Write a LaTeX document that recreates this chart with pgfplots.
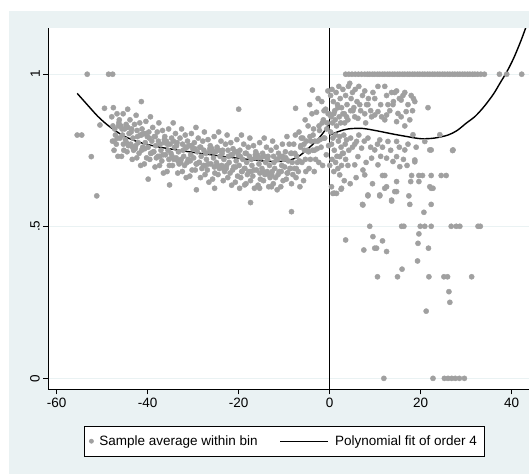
\documentclass[border=0pt]{standalone}
\usepackage{fontspec}
\setmainfont{Liberation Sans}
\usepackage{pgfplots}
\pgfplotsset{compat=1.18}
\usepackage{pgfplotstable}
\definecolor{bgc}{RGB}{234,242,243}
\definecolor{mgray}{RGB}{160,160,160}
\pgfplotsset{fitlegend/.style={legend image code/.code={\draw[##1] (0pt,0pt) -- (48pt,0pt);}},
  scatlegend/.style={legend image code/.code={\draw[##1, mark size=2pt] plot coordinates {(0pt,0pt)};}}}

\pgfplotstableread{
x y
-47.9 .86
-47.75 .78
-47.55 .89
-47.4 .75
-47.25 .82
-47.1 .80
-46.9 .77
-46.75 .87
-46.55 .73
-46.4 .83
-46.25 .85
-46.1 .79
-45.9 .83
-45.75 .73
-45.55 .80
-45.4 .87
-45.25 .75
-45.1 .82
-44.9 .785
-44.75 .835
-44.55 .745
-44.4 .885
-44.25 .765
-44.1 .805
-43.9 .85
-43.75 .77
-43.55 .82
-43.4 .72
-43.25 .79
-43.1 .75
-42.9 .835
-42.75 .755
-42.55 .865
-42.4 .725
-42.25 .795
-42.1 .775
-41.9 .74
-41.75 .84
-41.55 .70
-41.4 .80
-41.25 .82
-41.1 .76
-40.9 .805
-40.75 .705
-40.55 .775
-40.4 .845
-40.25 .725
-40.1 .795
-39.9 .76
-39.75 .81
-39.55 .72
-39.4 .86
-39.25 .74
-39.1 .78
-38.9 .825
-38.75 .745
-38.55 .795
-38.4 .695
-38.25 .765
-38.1 .725
-37.9 .81
-37.75 .73
-37.55 .84
-37.4 .70
-37.25 .77
-37.1 .75
-36.9 .715
-36.75 .815
-36.55 .675
-36.4 .775
-36.25 .795
-36.1 .735
-35.9 .78
-35.75 .68
-35.55 .75
-35.4 .82
-35.25 .70
-35.1 .77
-34.9 .74
-34.75 .79
-34.55 .70
-34.4 .84
-34.25 .72
-34.1 .76
-33.9 .805
-33.75 .725
-33.55 .775
-33.4 .675
-33.25 .745
-33.1 .705
-32.9 .79
-32.75 .71
-32.55 .82
-32.4 .68
-32.25 .75
-32.1 .73
-31.9 .70
-31.75 .80
-31.55 .66
-31.4 .76
-31.25 .78
-31.1 .72
-30.9 .765
-30.75 .665
-30.55 .735
-30.4 .805
-30.25 .685
-30.1 .755
-29.9 .725
-29.75 .775
-29.55 .685
-29.4 .825
-29.25 .705
-29.1 .745
-28.9 .79
-28.75 .71
-28.55 .76
-28.4 .66
-28.25 .73
-28.1 .69
-27.9 .78
-27.75 .70
-27.55 .81
-27.4 .67
-27.25 .74
-27.1 .72
-26.9 .685
-26.75 .785
-26.55 .645
-26.4 .745
-26.25 .765
-26.1 .705
-25.9 .755
-25.75 .655
-25.55 .725
-25.4 .795
-25.25 .675
-25.1 .745
-24.9 .71
-24.75 .76
-24.55 .67
-24.4 .81
-24.25 .69
-24.1 .73
-23.9 .78
-23.75 .70
-23.55 .75
-23.4 .65
-23.25 .72
-23.1 .68
-22.9 .77
-22.75 .69
-22.55 .80
-22.4 .66
-22.25 .73
-22.1 .71
-21.9 .675
-21.75 .775
-21.55 .635
-21.4 .735
-21.25 .755
-21.1 .695
-20.9 .745
-20.75 .645
-20.55 .715
-20.4 .785
-20.25 .665
-20.1 .735
-19.9 .70
-19.75 .75
-19.55 .66
-19.4 .80
-19.25 .68
-19.1 .72
-18.9 .77
-18.75 .69
-18.55 .74
-18.4 .64
-18.25 .71
-18.1 .67
-17.9 .76
-17.75 .68
-17.55 .79
-17.4 .65
-17.25 .72
-17.1 .70
-16.9 .665
-16.75 .765
-16.55 .625
-16.4 .725
-16.25 .745
-16.1 .685
-15.9 .735
-15.75 .635
-15.55 .705
-15.4 .775
-15.25 .655
-15.1 .725
-14.9 .69
-14.75 .74
-14.55 .65
-14.4 .79
-14.25 .67
-14.1 .71
-13.9 .76
-13.75 .68
-13.55 .73
-13.4 .63
-13.25 .70
-13.1 .66
-12.9 .75
-12.75 .67
-12.55 .78
-12.4 .64
-12.25 .71
-12.1 .69
-11.9 .66
-11.75 .76
-11.55 .62
-11.4 .72
-11.25 .74
-11.1 .68
-10.9 .73
-10.75 .63
-10.55 .70
-10.4 .77
-10.25 .65
-10.1 .72
-9.9 .695
-9.75 .745
-9.55 .655
-9.4 .795
-9.25 .675
-9.1 .715
-8.9 .77
-8.75 .69
-8.55 .74
-8.4 .64
-8.25 .71
-8.1 .67
-7.9 .77
-7.75 .69
-7.55 .80
-7.4 .66
-7.25 .73
-7.1 .71
-6.9 .68
-6.75 .81
-6.55 .63
-6.4 .76
-6.25 .79
-6.1 .71
-5.9 .79
-5.75 .65
-5.55 .75
-5.4 .85
-5.25 .68
-5.1 .78
-4.9 .75
-4.75 .83
-4.55 .69
-4.4 .90
-4.25 .72
-4.1 .78
-3.9 .87
-3.75 .75
-3.55 .82
-3.4 .68
-3.25 .78
-3.1 .72
-2.9 .875
-2.75 .755
-2.55 .92
-2.4 .71
-2.25 .815
-2.1 .785
-1.9 .76
-1.75 .91
-1.55 .70
-1.4 .85
-1.25 .88
-1.1 .79
-0.9 .885
-0.75 .735
-0.55 .84
-0.4 .945
-0.25 .765
-0.1 .87
-47.65 .83
-47.35 .78
-46.65 .79
-46.35 .84
-45.65 .82
-45.35 .77
-44.65 .775
-44.35 .825
-43.65 .81
-43.35 .76
-42.65 .765
-42.35 .815
-41.65 .80
-41.35 .75
-40.65 .755
-40.35 .805
-39.65 .79
-39.35 .74
-38.65 .745
-38.35 .795
-37.65 .78
-37.35 .73
-36.65 .735
-36.35 .785
-35.65 .77
-35.35 .72
-34.65 .73
-34.35 .78
-33.65 .765
-33.35 .715
-32.65 .72
-32.35 .77
-31.65 .76
-31.35 .71
-30.65 .715
-30.35 .765
-29.65 .755
-29.35 .705
-28.65 .71
-28.35 .76
-27.65 .75
-27.35 .70
-26.65 .705
-26.35 .755
-25.65 .745
-25.35 .695
-24.65 .70
-24.35 .75
-23.65 .74
-23.35 .69
-22.65 .70
-22.35 .75
-21.65 .735
-21.35 .685
-20.65 .695
-20.35 .745
-19.65 .73
-19.35 .68
-18.65 .69
-18.35 .74
-17.65 .73
-17.35 .68
-16.65 .685
-16.35 .735
-15.65 .725
-15.35 .675
-14.65 .68
-14.35 .73
-13.65 .72
-13.35 .67
-12.65 .68
-12.35 .73
-11.65 .72
-11.35 .67
-10.65 .68
-10.35 .73
-9.65 .725
-9.35 .675
-8.65 .69
-8.35 .74
-7.65 .74
-7.35 .69
-6.65 .715
-6.35 .765
-5.65 .77
-5.35 .72
-4.65 .745
-4.35 .795
-3.65 .80
-3.35 .75
-2.65 .78
-2.35 .83
-1.65 .84
-1.35 .79
-0.65 .82
-0.35 .87
-55.5 .80
-54.5 .80
-53.3 1
-52.4 .729
-51.2 .60
-50.5 .833
-49.5 .888
-48.6 1
-47.7 1
-41.4 .91
-39.9 .655
-35.2 .636
-29.3 .62
-25.3 .625
-20.0 .885
-19.8 .625
-18.7 .636
-17.4 .578
-15.4 .625
-12.8 .63
-8.4 .548
-7.5 .888
-3.8 .948
0.2 .93
0.5 .95
0.8 .91
1.1 .88
1.4 .94
1.7 .90
2.0 .96
2.3 .92
2.6 .89
2.9 .95
3.2 .87
3.5 .93
3.8 .90
4.1 .96
4.4 .97
4.7 .92
5.0 .94
5.3 .89
5.6 .95
6.0 .91
6.4 .96
6.8 .88
7.2 .93
7.7 .945
8.1 .90
8.5 .92
9.0 .88
9.5 .94
9.9 .92
10.6 .96
11.2 .90
12.1 .96
12.5 .93
12.8 .90
13.6 .94
14.0 .91
14.3 .94
14.7 .945
15.3 .92
15.7 .915
16.1 .93
16.5 .94
17.2 .90
17.9 .93
18.4 .92
18.7 .91
21.6 .89
0.3 .86
0.6 .84
0.9 .87
1.2 .85
1.5 .83
1.8 .89
2.1 .86
2.4 .84
2.9 .87
3.3 .84
3.7 .86
4.0 .85
4.6 .88
5.1 .88
5.5 .86
6.2 .855
6.6 .90
7.7 .87
7.9 .84
8.4 .90
9.2 .86
9.9 .866
10.6 .877
11.4 .86
12.1 .85
12.5 .866
13.2 .88
13.9 .90
14.7 .844
15.0 .871
15.7 .86
16.5 .83
16.8 .877
17.6 .85
18.2 .88
0.2 .81
0.4 .77
0.7 .79
1.0 .75
1.3 .80
1.6 .73
1.9 .78
2.2 .795
2.5 .76
2.8 .74
3.1 .80
3.4 .77
3.7 .784
4.2 .75
4.6 .79
5.0 .76
5.5 .77
5.9 .779
6.4 .80
7.0 .757
7.6 .78
8.4 .79
9.0 .76
9.9 .751
10.5 .77
11.0 .784
11.6 .76
12.8 .779
13.4 .75
14.7 .779
15.3 .76
16.5 .751
17.2 .77
18.3 .801
19.0 .76
20.9 .779
22.3 .751
24.2 .801
27.1 .751
0.0 .70
0.5 .72
0.9 .68
1.3 .71
1.8 .69
2.2 .729
2.6 .70
3.0 .74
3.5 .72
4.0 .70
5.5 .702
6.2 .729
7.3 .685
8.0 .71
9.2 .724
10.6 .702
11.2 .73
12.5 .724
13.9 .713
14.7 .729
15.4 .696
16.2 .72
17.0 .70
18.7 .718
0.4 .63
0.7 .608
1.5 .608
2.2 .669
2.6 .625
3.2 .65
4.5 .64
5.8 .66
7.7 .669
8.4 .603
9.4 .64
11.0 .603
12.5 .63
13.6 .586
14.3 .614
14.7 .647
7.3 .57
1.0 .609
2.5 .622
7.2 .572
8.4 .60
11.0 .60
13.6 .583
12.1 .625
14.7 .614
17.4 .60
17.6 .572
20.7 .546
22.3 .572
22.3 .625
22.0 .630
22.7 .625
19.6 .647
17.8 .647
18.7 .712
22.0 .751
27.0 .749
11.6 .667
12.1 .667
18.0 .667
19.6 .667
20.4 .667
22.3 .667
24.5 .667
25.6 .667
8.8 .5
15.8 .5
16.3 .5
19.9 .5
20.9 .5
22.3 .5
26.7 .5
27.8 .5
28.6 .5
32.6 .5
33.1 .5
3.5 .455
7.5 .422
9.5 .466
9.9 .428
10.3 .428
11.6 .452
12.5 .417
15.9 .359
19.3 .386
19.4 .444
19.6 .475
21.7 .428
10.5 .334
14.9 .334
21.8 .334
25.1 .334
25.9 .334
31.2 .334
26.2 .285
26.4 .25
21.2 .221
11.9 0
22.7 0
25.2 0
26.0 0
26.8 0
27.6 0
28.5 0
29.6 0
3.5 1
4.2 1
4.9 1
5.6 1
6.3 1
7.0 1
7.7 1
8.3 1
8.8 1
9.4 1
9.9 1
10.5 1
11.0 1
11.6 1
12.1 1
12.7 1
13.2 1
13.8 1
14.3 1
14.9 1
15.4 1
16.0 1
16.5 1
17.1 1
17.6 1
18.2 1
18.7 1
19.3 1
19.8 1
20.4 1
20.9 1
21.5 1
22.0 1
22.6 1
23.1 1
23.7 1
24.2 1
24.8 1
25.3 1
25.9 1
26.4 1
27.0 1
27.5 1
28.1 1
28.6 1
29.2 1
29.7 1
30.3 1
30.8 1
31.4 1
31.9 1
32.5 1
33.2 1
34.0 1
37.3 1
38.9 1
42.2 1
}\bins

\begin{document}
\begin{tikzpicture}[x=1pt,y=1pt,font=\fontsize{13.5}{16}\selectfont]
\useasboundingbox (0,0) rectangle (529,474);
\fill[white] (0,0) rectangle (529,474);
\fill[bgc] (9,0) rectangle (529,463);
\begin{axis}[
  at={(48.3pt,84.7pt)}, anchor=south west,
  scale only axis, width=480.7pt, height=361pt,
  xmin=-61.85, xmax=43.8, ymin=-0.036, ymax=1.151,
  axis background/.style={fill=white},
  axis x line*=bottom, axis y line*=left,
  axis line style={-, black, line width=0.9pt},
  tick align=outside, major tick length=5pt,
  every tick/.style={black, line width=0.9pt},
  xtick={-60,-40,-20,0,20,40},
  xticklabels={-60,-40,-20,0,20,40},
  ytick={0,0.5,1}, yticklabels={0,.5,1},
  ymajorgrids, grid style={bgc, line width=1pt},
  tick label style={font=\fontsize{13.5}{16}\selectfont},
  yticklabel style={rotate=90, anchor=south},
  legend columns=2,
  legend style={at={(0.0743,-0.1008)}, anchor=north west, draw=black, fill=white,
    line width=0.8pt, font=\fontsize{13.5}{16}\selectfont,
    inner xsep=5pt, inner ysep=7.5pt,
    /tikz/every odd column/.append style={column sep=4pt},
    /tikz/every even column/.append style={column sep=20pt}},
  legend cell align=left,
]
\addplot[only marks, mark=*, color=mgray, mark size=2.6pt, scatlegend] table[x=x,y=y] {\bins};
\addlegendentry{Sample average within bin}
\addplot[black, line width=1.4pt, smooth, fitlegend] coordinates {
(-55.5,.937) (-53,.895) (-51,.862) (-49,.835) (-47,.813) (-45,.795) (-42,.777) (-38,.762) (-34,.752) (-30,.743) (-26,.735) (-22,.727) (-18,.720) (-14,.714) (-11,.713) (-9,.717) (-7,.728) (-5,.752) (-3,.780) (-1.5,.806) (0,.839)
};
\addlegendentry{Polynomial fit of order 4}
\addplot[black, line width=1.4pt, smooth, forget plot] coordinates {
(0,.80) (2,.812) (4,.82) (7,.822) (10,.815) (14,.803) (17,.795) (20,.788) (23,.790) (26,.800) (28,.815) (30,.839) (32,.862) (34,.895) (36,.935) (37.4,.97) (39,1.01) (40.5,1.055) (42.1,1.113) (43.5,1.17)
};
\addplot[black, line width=1pt, forget plot] coordinates {(0,-0.1) (0,1.3)};
\end{axis}
\end{tikzpicture}
\end{document}
